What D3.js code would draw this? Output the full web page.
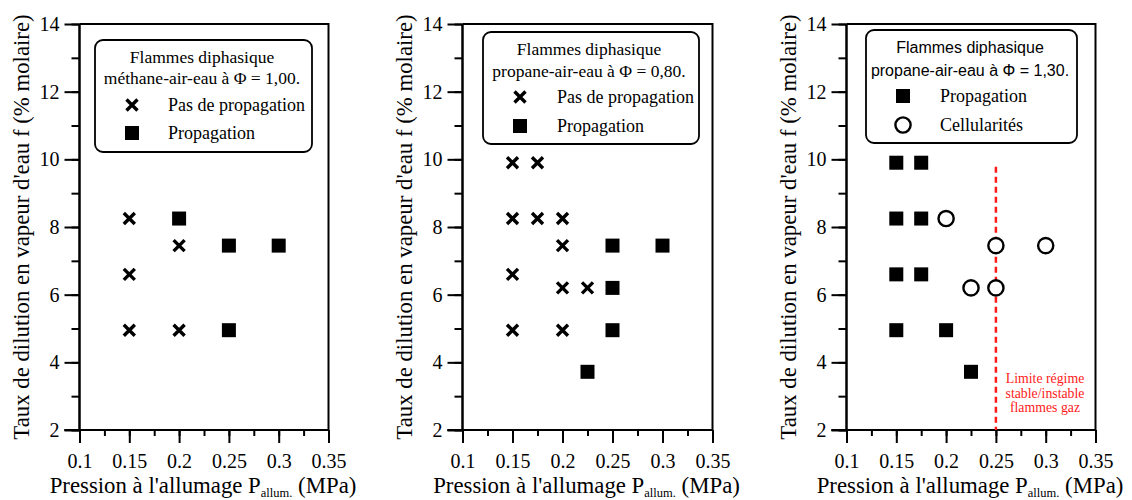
<!DOCTYPE html>
<html><head><meta charset="utf-8">
<script src="https://cdn.jsdelivr.net/npm/d3@7"></script>
<style>
body{margin:0;background:#fff;}
svg{display:block;}
svg text{font-family:"Liberation Serif","Times New Roman",serif;}
svg text.sans{font-family:"Liberation Sans",Arial,sans-serif;}
</style></head>
<body>
<svg id="c" width="1132" height="500"></svg>
<script>
// ---- data ----
const xTickValues = [0.1, 0.15, 0.2, 0.25, 0.3, 0.35];
const xTickLabels = ["0.1", "0.15", "0.2", "0.25", "0.3", "0.35"];
const yTickValues = [2, 4, 6, 8, 10, 12, 14];
const yTickLabels = ["2", "4", "6", "8", "10", "12", "14"];

// Panel 1: méthane-air-eau, Φ = 1,00
const p1NoProp = [[0.15, 8.25], [0.15, 6.6], [0.15, 4.95], [0.2, 7.45], [0.2, 4.95]];
const p1Prop   = [[0.2, 8.25], [0.25, 7.45], [0.3, 7.45], [0.25, 4.95]];
// Panel 2: propane-air-eau, Φ = 0,80
const p2NoProp = [[0.15, 9.9], [0.175, 9.9], [0.15, 8.25], [0.175, 8.25], [0.2, 8.25], [0.2, 7.45],
                  [0.15, 6.6], [0.2, 6.2], [0.225, 6.2], [0.15, 4.95], [0.2, 4.95]];
const p2Prop   = [[0.25, 7.45], [0.3, 7.45], [0.25, 6.2], [0.25, 4.95], [0.225, 3.72]];
// Panel 3: propane-air-eau, Φ = 1,30
const p3Prop   = [[0.15, 9.9], [0.175, 9.9], [0.15, 8.25], [0.175, 8.25], [0.15, 6.6], [0.175, 6.6],
                  [0.15, 4.95], [0.2, 4.95], [0.225, 3.72]];
const p3Cell   = [[0.2, 8.25], [0.25, 7.45], [0.3, 7.45], [0.225, 6.2], [0.25, 6.2]];
const p3Limit  = [[0.25, 9.78], [0.25, 2]];

const titles = [
  ["Flammes diphasique", "méthane-air-eau à Φ = 1,00."],
  ["Flammes diphasique", "propane-air-eau à Φ = 0,80."],
  ["Flammes diphasique", "propane-air-eau à Φ = 1,30."]
];
const legendLabels = [
  ["Pas de propagation", "Propagation"],
  ["Pas de propagation", "Propagation"],
  ["Propagation", "Cellularités"]
];
const limitText = ["Limite régime", "stable/instable", "flammes gaz"];
const xTitle = "Pression à l'allumage P";
const xTitleSub = "allum.";
const xTitleEnd = " (MPa)";
const yTitle = "Taux de dilution en vapeur d'eau f (% molaire)";

// ---- layout ----
const svg = d3.select("#c");
const plotTop = 24, plotBottom = 430;
const panels = [
  {left: 79.5, width: 249, legend: {x: 95, y: 40, w: 217, h: 112, tx: 202, ty1: 63, ty2: 84, sx: 132, lx: 168, r1: 105, r2: 133}, sansTitle: false, syms: ["x", "sq"], series: [p1NoProp, p1Prop]},
  {left: 462.5, width: 250, legend: {x: 483, y: 32, w: 216, h: 112, tx: 589, ty1: 55, ty2: 77, sx: 520, lx: 557, r1: 97, r2: 126}, sansTitle: false, syms: ["x", "sq"], series: [p2NoProp, p2Prop]},
  {left: 846.5, width: 249, legend: {x: 866, y: 30, w: 211, h: 113, tx: 970, ty1: 53, ty2: 76, sx: 903, lx: 940, r1: 96, r2: 125}, sansTitle: true, syms: ["sq", "o"], series: [p3Prop, p3Cell]}
];

function drawSym(g, type, cx, cy) {
  if (type === "x") {
    const s = 5.5;
    g.append("path").attr("d", `M${cx - s},${cy - s}L${cx + s},${cy + s}M${cx - s},${cy + s}L${cx + s},${cy - s}`)
      .attr("stroke", "#000").attr("stroke-width", 3.4).attr("fill", "none");
  } else if (type === "sq") {
    g.append("rect").attr("x", cx - 7).attr("y", cy - 7).attr("width", 14).attr("height", 14).attr("fill", "#000");
  } else {
    g.append("circle").attr("cx", cx).attr("cy", cy).attr("r", 7.6).attr("fill", "#fff")
      .attr("stroke", "#000").attr("stroke-width", 2.4);
  }
}

panels.forEach((p, i) => {
  const x = d3.scaleLinear().domain([0.1, 0.35]).range([p.left, p.left + p.width]);
  const y = d3.scaleLinear().domain([2, 14]).range([plotBottom, plotTop]);
  const g = svg.append("g");

  // frame (top & right)
  g.append("path").attr("d", `M${p.left},${plotTop}H${p.left + p.width}V${plotBottom}`)
    .attr("fill", "none").attr("stroke", "#000").attr("stroke-width", 2);

  // x axis
  const xMinor = d3.range(0.1, 0.3501, 0.025).map(v => +v.toFixed(3));
  const xa = g.append("g").attr("transform", `translate(0,${plotBottom})`);
  xa.call(d3.axisBottom(x).tickValues(xMinor).tickSize(6).tickFormat(""));
  xa.append("g").call(d3.axisBottom(x).tickValues(xTickValues).tickSize(13).tickPadding(11)
    .tickFormat((d, k) => xTickLabels[k]));
  xa.selectAll(".domain").attr("stroke-width", 2).attr("d", `M${p.left - 15},0H${p.left + p.width}`);
  xa.selectAll("line").attr("stroke-width", 2);
  xa.attr("font-family", null);
  xa.selectAll("g").attr("font-family", null);
  xa.selectAll("text").style("font-size", "20px").attr("fill", "#000");

  // y axis
  const ya = g.append("g").attr("transform", `translate(${p.left},0)`);
  ya.call(d3.axisLeft(y).tickValues(d3.range(2, 14.01, 1)).tickSize(8).tickFormat(""));
  ya.append("g").call(d3.axisLeft(y).tickValues(yTickValues).tickSize(15).tickPadding(5)
    .tickFormat((d, k) => yTickLabels[k]));
  ya.selectAll(".domain").attr("stroke-width", 2).attr("d", `M0,${plotTop}V${plotBottom}`);
  ya.selectAll("line").attr("stroke-width", 2);
  ya.attr("font-family", null);
  ya.selectAll("g").attr("font-family", null);
  ya.selectAll("text").style("font-size", "20px").attr("fill", "#000");

  // axis titles
  const xt = g.append("text").attr("x", p.left + p.width / 2 - 1).attr("y", 493)
    .attr("text-anchor", "middle").style("font-size", "22.8px").attr("fill", "#000");
  xt.append("tspan").text(xTitle);
  xt.append("tspan").style("font-size", "12.5px").attr("dy", 4).text(xTitleSub);
  xt.append("tspan").attr("dy", -4).text(xTitleEnd);

  g.append("text").attr("transform", `translate(${p.left - 50.5},227) rotate(-90)`)
    .attr("text-anchor", "middle").style("font-size", "22.8px").attr("fill", "#000")
    .text(yTitle);

  // limit line (panel 3)
  if (i === 2) {
    g.append("line").attr("x1", x(p3Limit[0][0])).attr("y1", y(p3Limit[0][1]))
      .attr("x2", x(p3Limit[1][0])).attr("y2", y(p3Limit[1][1]))
      .attr("stroke", "#ff1a1a").attr("stroke-width", 2.5).attr("stroke-dasharray", "6,4");
    limitText.forEach((t, k) => {
      g.append("text").attr("x", 1045).attr("y", 383 + k * 14.5).attr("text-anchor", "middle")
        .style("font-size", "13.8px").attr("fill", "#ff1a1a").text(t);
    });
  }

  // data
  p.series.forEach((data, si) => {
    data.forEach(d => drawSym(g, p.syms[si], x(d[0]), y(d[1])));
  });

  // legend
  const L = p.legend;
  g.append("rect").attr("x", L.x).attr("y", L.y).attr("width", L.w).attr("height", L.h)
    .attr("rx", 8).attr("fill", "#fff").attr("stroke", "#000").attr("stroke-width", 1.8);
  [L.ty1, L.ty2].forEach((ty, k) => {
    g.append("text").attr("class", p.sansTitle ? "sans" : null).attr("x", L.tx).attr("y", ty).attr("text-anchor", "middle")
      .style("font-size", p.sansTitle ? "16px" : "17.5px").attr("fill", "#000").text(titles[i][k]);
  });
  [L.r1, L.r2].forEach((ry, k) => {
    drawSym(g, p.syms[k], L.sx, ry);
    g.append("text").attr("x", L.lx).attr("y", ry + 5.5).style("font-size", "18px")
      .attr("fill", "#000").text(legendLabels[i][k]);
  });
});
</script>
</body></html>
